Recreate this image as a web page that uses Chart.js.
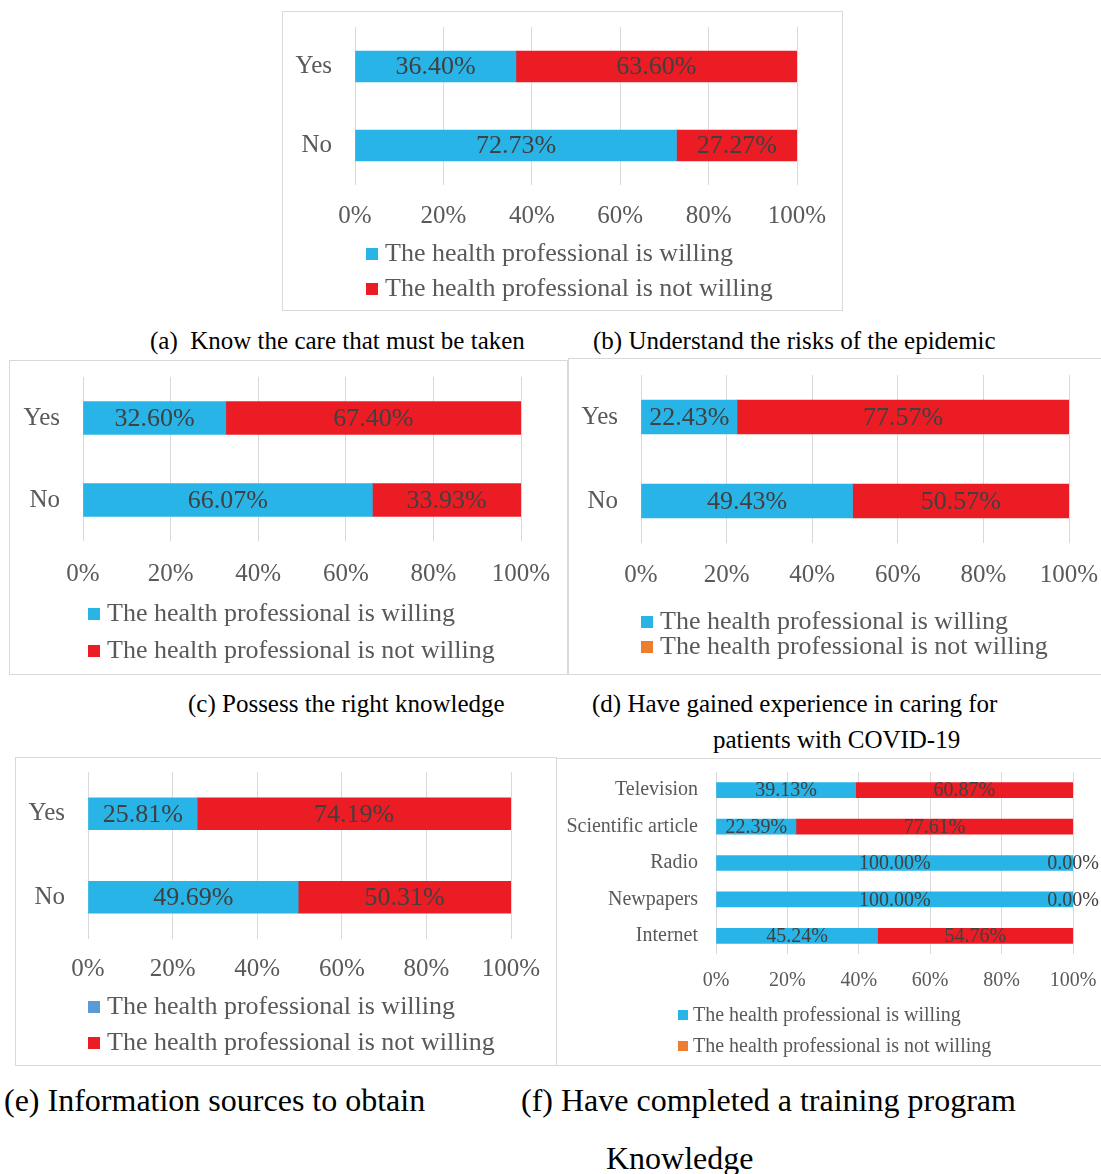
<!DOCTYPE html>
<html>
<head>
<meta charset="utf-8">
<script src="https://cdn.jsdelivr.net/npm/chart.js@4"></script>
<style>
  body { margin: 0; background: #fff; }
  #page { position: relative; width: 1101px; height: 1174px; overflow: hidden; font-family: "Liberation Serif", serif; }
  .panel { position: absolute; border: 1px solid #d9d9d9; box-sizing: border-box; }
  .panel canvas { position: absolute; left: -1px; top: -1px; }
  .leg { position: absolute; white-space: nowrap; color: #595959; line-height: 1; }
  .leg i { display: inline-block; vertical-align: middle; }
  .cap { position: absolute; white-space: nowrap; color: #000; line-height: 1; }
</style>
</head>
<body>
<div id="page"></div>
<script>
// data
const ynLabels = ['Yes', 'No'];
const careWilling = [36.40, 72.73];
const careNotWilling = [63.60, 27.27];
const risksWilling = [32.60, 66.07];
const risksNotWilling = [67.40, 33.93];
const knowledgeWilling = [22.43, 49.43];
const knowledgeNotWilling = [77.57, 50.57];
const experienceWilling = [25.81, 49.69];
const experienceNotWilling = [74.19, 50.31];
const sourceLabels = ['Television', 'Scientific article', 'Radio', 'Newpapers', 'Internet'];
const sourceWilling = [39.13, 22.39, 100.00, 100.00, 45.24];
const sourceNotWilling = [60.87, 77.61, 0.00, 0.00, 54.76];
const xTicks = [0, 20, 40, 60, 80, 100];
const seriesNames = ['The health professional is willing', 'The health professional is not willing'];

const BLUE = '#29b4e8', RED = '#ec1c24', ORANGE = '#ed7d31', STEEL = '#5b9bd5';
const FONT = '"Liberation Serif", serif';

const barLabels = {
    id: 'barLabels',
    afterDatasetsDraw(chart, args, opts) {
        const ctx = chart.ctx;
        ctx.save();
        ctx.font = opts.size + 'px ' + FONT;
        ctx.fillStyle = '#404040';
        ctx.textAlign = 'center';
        ctx.textBaseline = 'middle';
        chart.data.datasets.forEach((ds, i) => {
            chart.getDatasetMeta(i).data.forEach((bar, j) => {
                const p = bar.getCenterPoint();
                ctx.fillText(ds.data[j].toFixed(2) + '%', p.x, p.y + 1);
            });
        });
        ctx.restore();
    }
};

const page = document.getElementById('page');

function makePanel(p) {
    const div = document.createElement('div');
    div.className = 'panel';
    Object.assign(div.style, { left: p.box.x + 'px', top: p.box.y + 'px', width: p.box.w + 'px', height: p.box.h + 'px' });
    const canvas = document.createElement('canvas');
    canvas.width = p.box.w;
    canvas.height = p.box.h;
    div.appendChild(canvas);
    page.appendChild(div);

    const left = p.plot.l - p.box.x;
    const top = p.plot.t - p.box.y;
    const xH = 50;
    new Chart(canvas.getContext('2d'), {
        type: 'bar',
        data: {
            labels: p.labels,
            datasets: [
                { label: seriesNames[0], data: p.willing, backgroundColor: BLUE, barThickness: p.bar },
                { label: seriesNames[1], data: p.notWilling, backgroundColor: RED, barThickness: p.bar }
            ]
        },
        options: {
            indexAxis: 'y',
            responsive: false,
            animation: false,
            devicePixelRatio: 1,
            layout: {
                padding: { left: 0, top: top, right: p.box.x + p.box.w - p.plot.r, bottom: p.box.y + p.box.h - p.plot.b - xH }
            },
            scales: {
                x: {
                    stacked: true, min: 0, max: 100,
                    afterFit: s => { s.height = xH; s.paddingLeft = 0; s.paddingRight = 0; },
                    afterBuildTicks: s => { s.ticks = xTicks.map(v => ({ value: v })); },
                    grid: { color: '#d9d9d9', drawTicks: false },
                    border: { display: false },
                    ticks: { padding: p.xPad, color: '#595959', font: { family: FONT, size: p.font }, callback: v => v + '%' }
                },
                y: {
                    stacked: true,
                    afterFit: s => { s.width = left; s.paddingTop = 0; s.paddingBottom = 0; },
                    grid: { display: false, drawTicks: false },
                    border: { display: false },
                    ticks: { padding: p.yPad, color: '#595959', font: { family: FONT, size: p.font } }
                }
            },
            plugins: {
                legend: { display: false },
                tooltip: { enabled: false },
                barLabels: { size: p.labelSize }
            }
        },
        plugins: [barLabels]
    });

    p.legend.rows.forEach((cy, i) => {
        const row = document.createElement('div');
        row.className = 'leg';
        row.style.fontSize = p.legend.size + 'px';
        row.style.left = p.legend.x + 'px';
        row.style.top = (cy - p.legend.size / 2) + 'px';
        const sq = p.legend.sq;
        row.innerHTML = '<i style="width:' + sq + 'px;height:' + sq + 'px;background:' + p.legend.colors[i] +
            ';margin-right:' + p.legend.gap + 'px;margin-top:-3px"></i>' + seriesNames[i];
        page.appendChild(row);
    });
}

makePanel({ labels: ynLabels, willing: careWilling, notWilling: careNotWilling,
    box: { x: 282, y: 11, w: 561, h: 300 }, plot: { l: 355, r: 797, t: 27, b: 185 },
    bar: 31, font: 25, labelSize: 26, xPad: 16, yPad: 23,
    legend: { x: 366, rows: [253, 288], size: 26, sq: 12, gap: 7, colors: [BLUE, RED] } });

makePanel({ labels: ynLabels, willing: risksWilling, notWilling: risksNotWilling,
    box: { x: 9, y: 360, w: 559, h: 315 }, plot: { l: 83, r: 521, t: 377, b: 541 },
    bar: 33, font: 25, labelSize: 26, xPad: 18, yPad: 23,
    legend: { x: 88, rows: [613, 650], size: 26, sq: 12, gap: 7, colors: [BLUE, RED] } });

makePanel({ labels: ynLabels, willing: knowledgeWilling, notWilling: knowledgeNotWilling,
    box: { x: 568, y: 358, w: 545, h: 317 }, plot: { l: 641, r: 1069, t: 375, b: 543 },
    bar: 34, font: 25, labelSize: 26, xPad: 17, yPad: 23,
    legend: { x: 641, rows: [621, 646], size: 26, sq: 12, gap: 7, colors: [BLUE, ORANGE] } });

makePanel({ labels: ynLabels, willing: experienceWilling, notWilling: experienceNotWilling,
    box: { x: 15, y: 757, w: 542, h: 309 }, plot: { l: 88, r: 511, t: 772, b: 939 },
    bar: 32, font: 25, labelSize: 26, xPad: 15, yPad: 23,
    legend: { x: 88, rows: [1006, 1042], size: 26, sq: 12, gap: 7, colors: [STEEL, RED] } });

makePanel({ labels: sourceLabels, willing: sourceWilling, notWilling: sourceNotWilling,
    box: { x: 556, y: 758, w: 560, h: 308 }, plot: { l: 716, r: 1073, t: 772, b: 954 },
    bar: 15, font: 20, labelSize: 20, xPad: 15, yPad: 18,
    legend: { x: 678, rows: [1014, 1045], size: 20, sq: 10, gap: 5, colors: [BLUE, ORANGE] } });

const captions = [
    { text: '(a)\u00a0 Know the care that must be taken', x: 150, cy: 340, size: 25 },
    { text: '(b) Understand the risks of the epidemic', x: 593, cy: 340, size: 25 },
    { text: '(c) Possess the right knowledge', x: 188, cy: 703, size: 25 },
    { text: '(d) Have gained experience in caring for', x: 592, cy: 703, size: 25 },
    { text: 'patients with COVID-19', x: 713, cy: 739, size: 25 },
    { text: '(e) Information sources to obtain', x: 4, cy: 1100, size: 32 },
    { text: '(f) Have completed a training program', x: 521, cy: 1100, size: 32 },
    { text: 'Knowledge', x: 606, cy: 1158, size: 32 }
];
captions.forEach(c => {
    const el = document.createElement('div');
    el.className = 'cap';
    el.textContent = c.text;
    el.style.fontSize = c.size + 'px';
    el.style.left = c.x + 'px';
    el.style.top = (c.cy - c.size / 2) + 'px';
    page.appendChild(el);
});
</script>
</body>
</html>
